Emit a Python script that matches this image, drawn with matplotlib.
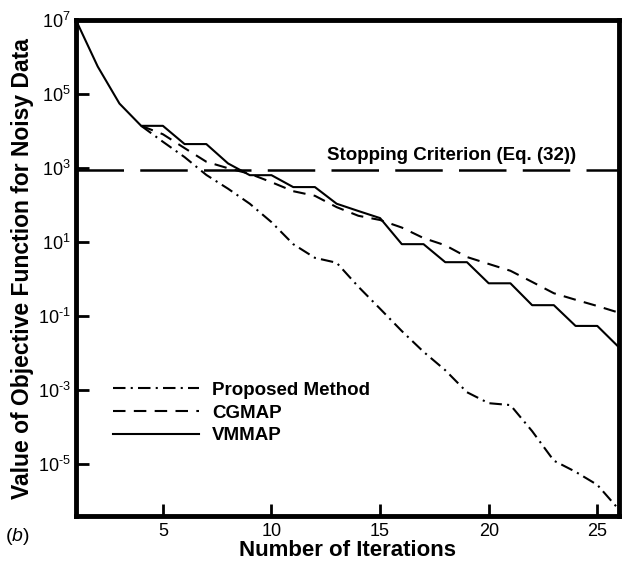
import matplotlib
matplotlib.use('Agg')
import matplotlib.pyplot as plt

plt.rcParams['font.family'] = ['Liberation Sans', 'DejaVu Sans']
plt.rcParams['mathtext.fontset'] = 'custom'
plt.rcParams['mathtext.rm'] = 'Liberation Sans'
plt.rcParams['mathtext.it'] = 'Liberation Sans:italic'

# iterations and objective function values
it_vmmap = list(range(1, 27))
vmmap = [1e7, 5.6e5, 5.6e4, 1.4e4, 1.4e4, 4.5e3, 4.5e3, 1.35e3, 6.5e2, 6.5e2,
         3.1e2, 3.1e2, 1.1e2, 7.0e1, 4.5e1, 8.9, 8.9, 2.9, 2.9, 0.78,
         0.78, 0.2, 0.2, 0.055, 0.055, 0.0145]

it_cgmap = list(range(4, 27))
cgmap = [1.4e4, 8.3e3, 3.5e3, 1.5e3, 1.0e3, 7.1e2, 4.2e2, 2.4e2, 1.8e2, 8.9e1,
         5.2e1, 4.0e1, 2.5e1, 1.3e1, 8.3, 4.0, 2.6, 1.7, 0.85, 0.42,
         0.28, 0.19, 0.125]

it_prop = list(range(4, 27))
proposed = [1.4e4, 5.2e3, 2.0e3, 6.6e2, 2.8e2, 1.1e2, 3.5e1, 8.9, 3.8, 2.8,
            0.63, 0.16, 0.04, 0.011, 3.5e-3, 8.9e-4, 4.5e-4, 4.0e-4, 7.9e-5, 1.26e-5,
            6.3e-6, 2.8e-6, 6.0e-7]

stop_value = 9e2
stop_label = 'Stopping Criterion (Eq. (32))'

xticks = [5, 10, 15, 20, 25]
yticks = [1e-5, 1e-3, 1e-1, 1e1, 1e3, 1e5, 1e7]
ytick_labels = [r'$\mathregular{10^{\text{-}5}}$', r'$\mathregular{10^{\text{-}3}}$', r'$\mathregular{10^{\text{-}1}}$',
                r'$\mathregular{10^{1}}$', r'$\mathregular{10^{3}}$', r'$\mathregular{10^{5}}$',
                r'$\mathregular{10^{7}}$']

fig = plt.figure(figsize=(6.23, 5.61), dpi=100)
ax = fig.add_axes([0.122, 0.080, 0.8716, 0.884])

ax.axhline(stop_value, color='black', lw=1.8, linestyle=(0, (19, 6.5)), zorder=1)
ax.text(0.692, 0.727, stop_label, transform=ax.transAxes, ha='center', va='center',
        fontsize=13.5, fontweight='bold')

ax.plot(it_prop, proposed, color='black', lw=1.5, linestyle=(0, (6, 2.5, 1, 2.5)), label='Proposed Method')
ax.plot(it_cgmap, cgmap, color='black', lw=1.5, linestyle=(0, (6, 4)), label='CGMAP')
ax.plot(it_vmmap, vmmap, color='black', lw=1.5, linestyle='-', label='VMMAP')

ax.set_yscale('log')
ax.set_xlim(1, 26)
ax.set_ylim(4e-7, 1e7)
ax.set_xticks(xticks)
ax.set_xticklabels([str(t) for t in xticks], fontsize=13)
ax.set_yticks(yticks)
ax.set_yticklabels(ytick_labels, fontsize=13)
ax.minorticks_off()
ax.tick_params(direction='in', length=9, width=2, pad=5)
ax.tick_params(axis='y', pad=4)

for s in ax.spines.values():
    s.set_linewidth(3.5)

ax.set_xlabel('Number of Iterations', fontsize=16, fontweight='bold', labelpad=0)
ax.set_ylabel('Value of Objective Function for Noisy Data', fontsize=16.5, fontweight='bold')
ax.yaxis.set_label_coords(-0.078, 0.5)

ax.legend(loc='center left', bbox_to_anchor=(0.068, 0.208), frameon=False,
          prop={'weight': 'bold', 'size': 13.5}, handlelength=4.6, handletextpad=0.7,
          labelspacing=0.3, borderpad=0, borderaxespad=0)

fig.text(0.008, 0.035, r'($\mathit{b}$)', fontsize=14)

fig.savefig('out.png', dpi=100)
